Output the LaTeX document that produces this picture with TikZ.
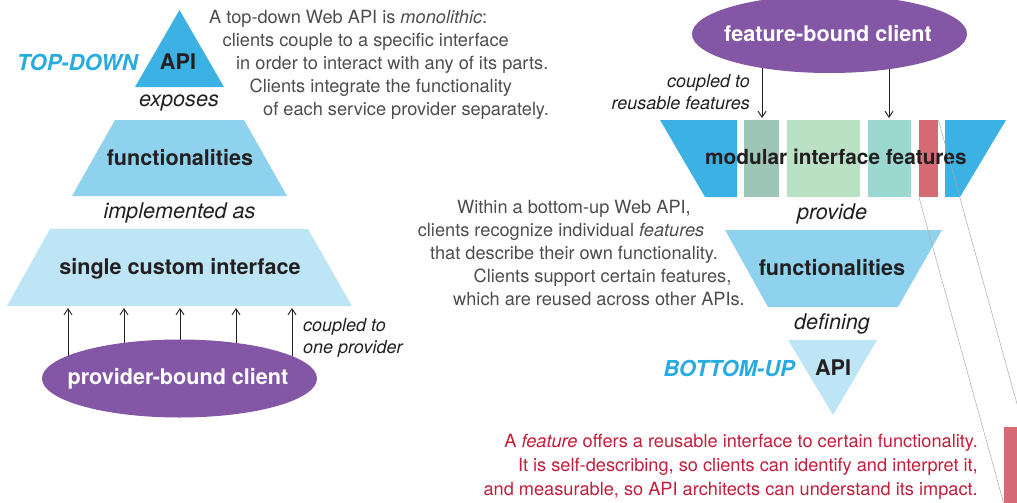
\documentclass[tikz,border=0pt]{standalone}
\usepackage{fontspec}
\setmainfont{TeX Gyre Heros}
\usetikzlibrary{arrows.meta}
\usetikzlibrary{shapes.geometric}
\usetikzlibrary{backgrounds}

\definecolor{apiblue}{RGB}{60,178,228}
\definecolor{funcblue}{RGB}{143,210,238}
\definecolor{paleblue}{RGB}{190,229,245}
\definecolor{clientpurple}{RGB}{132,86,166}
\definecolor{featA}{RGB}{157,198,183}
\definecolor{featB}{RGB}{186,225,196}
\definecolor{featC}{RGB}{154,216,208}
\definecolor{featD}{RGB}{214,106,117}
\definecolor{labelblue}{RGB}{41,170,225}
\definecolor{notered}{RGB}{196,30,58}
\definecolor{textgray}{RGB}{77,77,77}
\definecolor{ink}{RGB}{35,31,32}

\begin{document}
\begin{tikzpicture}[x=1pt,y=-1pt,every node/.style={inner sep=0pt,text=ink},
	note/.style={font=\fontsize{18.2}{23}\selectfont,text=textgray},
	rel/.style={font=\fontsize{21.6}{26}\selectfont\itshape},
	layer/.style={font=\fontsize{21.6}{26}\selectfont\bfseries},
	side/.style={font=\fontsize{22}{26}\selectfont\bfseries\itshape,text=labelblue},
	cue/.style={font=\fontsize{18}{22.5}\selectfont\itshape},
	client/.style={ellipse,fill=clientpurple,minimum width=275pt,minimum height=78pt},
	clientlabel/.style={text=white,font=\fontsize{21.6}{26}\selectfont\bfseries},
	feature/.style={rectangle,anchor=north west,minimum height=77pt},
	couple/.style={draw=ink,line width=0.9pt,-{Straight Barb[length=6pt,width=8pt]}},
	zoomline/.style={draw=gray!65,line width=0.5pt}]
	\useasboundingbox (0,0) rectangle (1017,503);
	\clip (0,0) rectangle (1017,503);

	% top-down stack
	\fill[apiblue] (179.5,10) -- (224,87) -- (135,87) -- cycle;
	\fill[funcblue] (115,120) -- (244,120) -- (287,196) -- (72,196) -- cycle;
	\fill[paleblue] (50,229) -- (308,229) -- (352,306) -- (7,306) -- cycle;
	\node[layer] (tdapi) at (178,62) {API};
	\node[side,anchor=east] (topdown) at (138,62) {TOP-DOWN};
	\node[rel] (exposes) at (179,103) {exposes};
	\node[layer] (tdfunc) at (180,158) {functionalities};
	\node[rel] (implemented) at (179.5,213) {implemented as};
	\node[layer] (custom) at (180,269) {single custom interface};
	\node[client] (pbc) at (179.5,378.5) {};
	\node[clientlabel] (pbctext) at (178,379) {provider-bound client};
	\node[cue,align=left,anchor=west] (onecue) at (303,338) {coupled to\\one provider};
	\begin{pgfonlayer}{background}
		\foreach \x [count=\i] in {68,124,180,236,292} {
			\coordinate (up\i) at (\x,308);
			\draw[couple] (up\i |- pbc.center) -- (up\i);
		}
	\end{pgfonlayer}

	\foreach \txt [count=\i from 0] in {
		{A top-down Web API is \textit{monolithic}:},
		{clients couple to a specific interface},
		{in order to interact with any of its parts.},
		{Clients integrate the functionality},
		{of each service provider separately.}}
		\node[note,anchor=base west] (topnote\i) at (209+13.5*\i,23.3+23*\i) {\txt};

	% bottom-up stack
	\fill[apiblue] (660,120) -- (737,120) -- (737,197) -- (705,197) -- cycle;
	\fill[apiblue] (945,120) -- (1006,120) -- (960,197) -- (945,197) -- cycle;
	\node[feature,fill=featA,minimum width=35pt] (fA) at (744,120) {};
	\node[feature,fill=featB,minimum width=73pt] (fB) at (787,120) {};
	\node[feature,fill=featC,minimum width=43pt] (fC) at (868,120) {};
	\node[feature,fill=featD,minimum width=19pt] (fD) at (919,120) {};
	\node[feature,fill=featD,minimum width=19pt] (fDzoom) at (1004,427) {};
	\fill[funcblue] (725,230) -- (942,230) -- (898,307) -- (768,307) -- cycle;
	\fill[paleblue] (788,340) -- (877,340) -- (833,415) -- cycle;
	\node[layer,font=\fontsize{20.8}{26}\selectfont\bfseries] (modular) at (836,157) {modular interface features};
	\node[rel] (provide) at (832,214) {provide};
	\node[layer] (bufunc) at (832,268) {functionalities};
	\node[rel] (defining) at (832,324) {defining};
	\node[layer] (buapi) at (833,368) {API};
	\node[side,anchor=east] (bottomup) at (795,368) {BOTTOM-UP};
	\node[client] (fbc) at (829.5,34) {};
	\node[clientlabel] (fbctext) at (828,34) {feature-bound client};
	\node[cue,align=right,anchor=east] (reusecue) at (750,92) {coupled to\\reusable features};
	\begin{pgfonlayer}{background}
		\foreach \x [count=\i] in {762,889} {
			\coordinate (down\i) at (\x,118);
			\draw[couple] (down\i |- fbc.center) -- (down\i);
		}
	\end{pgfonlayer}

	\foreach \txt [count=\i from 0] in {
		{Within a bottom-up Web API,},
		{clients recognize individual \textit{features}},
		{that describe their own functionality.},
		{Clients support certain features,},
		{which are reused across other APIs.}}
		\node[note,anchor=base east] (bunote\i) at (691+13.5*\i,213+23.1*\i) {\txt};

	\foreach \txt [count=\i from 0] in {
		{A \textit{feature} offers a reusable interface to certain functionality.},
		{It is self-describing, so clients can identify and interpret it,},
		{and measurable, so API architects can understand its impact.}}
		\node[note,text=notered,anchor=base east] (featnote\i) at (978,447+24*\i) {\txt};

	\draw[zoomline] (fD.south west) -- (fDzoom.south west);
	\draw[zoomline] (fD.north east) -- (fDzoom.north east);
\end{tikzpicture}
\end{document}
